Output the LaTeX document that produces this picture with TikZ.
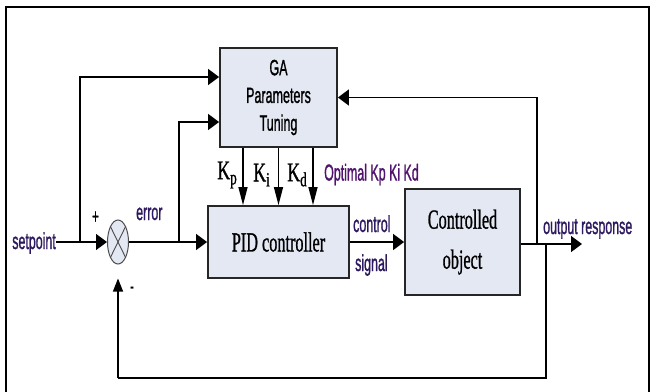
\documentclass[tikz,border=0pt]{standalone}
\usepackage{fontspec}
\usepackage{graphicx}
\usetikzlibrary{shapes.geometric,arrows.meta}
\newfontfamily\lsans[FakeBold=1.5]{Liberation Sans}
\newfontfamily\lserif[FakeBold=1.2]{Liberation Serif}
\newcommand{\sn}[1]{\scalebox{0.54}[1]{#1}}
\newcommand{\gs}[1]{\scalebox{0.57}[1]{#1}}
\newcommand{\sr}[1]{\scalebox{0.59}[1]{#1}}
\newcommand{\kr}[1]{\scalebox{0.66}[1]{#1}}
\definecolor{boxfill}{RGB}{227,232,243}
\definecolor{lbl}{RGB}{45,25,95}
\definecolor{optc}{RGB}{80,20,110}
\tikzset{
  blk/.style={draw=black!85, line width=1.8pt, fill=boxfill, inner sep=0pt, align=center},
  wire/.style={line width=1.3pt, black},
  harrow/.style={wire, -{Triangle[length=11pt,width=16pt]}},
  varrow/.style={wire, -{Triangle[length=18pt,width=9pt]}},
  farrow/.style={wire, -{Triangle[length=13pt,width=10pt]}},
  sanslbl/.style={font=\lsans\fontsize{23}{26}\selectfont, text=lbl, inner sep=0pt},
  klbl/.style={font=\lserif\fontsize{27}{28}\selectfont, inner sep=0pt, anchor=east}
}
\newcommand{\ksub}[1]{\raisebox{-5pt}{\fontsize{20}{20}\selectfont #1}}
\begin{document}
\begin{tikzpicture}[x=1pt,y=-1pt]
\useasboundingbox (0,0) rectangle (656,391);
\clip (0,0) rectangle (656,391);
% frame
\draw[line width=2.2pt] (6,400) -- (6,7) -- (649,7) -- (649,400);

% blocks
\node[blk, minimum width=117pt, minimum height=99pt,
      font=\lsans\fontsize{22}{27.7}\selectfont] (GA) at (278.5,97.5) {\gs{GA}\\\gs{Parameters}\\\gs{Tuning}};
\node[blk, minimum width=141pt, minimum height=72pt, font=\lserif\fontsize{27.5}{28}\selectfont] (PID) at (278.5,242) {\sr{PID controller}};
\node[blk, minimum width=115pt, minimum height=106pt, font=\lserif\fontsize{27.5}{40}\selectfont] (CO) at (462.5,242) {\sr{Controlled}\\\sr{object}};
\node[draw=black!70, line width=1pt, fill=boxfill, ellipse, minimum width=21pt, minimum height=44pt, inner sep=0pt] (sum) at (118,242) {};
\draw[black!70, line width=0.9pt] (sum.north east) -- (sum.south west);
\draw[black!70, line width=0.9pt] (sum.north west) -- (sum.south east);

% labels
\node[sanslbl, anchor=base east] (sp) at (56,249) {\sn{setpoint}};
\node[sanslbl, anchor=base west] (err) at (136,220) {\sn{error}};
\node[inner sep=0pt, font=\lsans\fontsize{21}{24}\selectfont] (plus) at (95.5,217.5) {\sn{+}};
\node[inner sep=0pt, font=\lsans\fontsize{21}{24}\selectfont] (minus) at (132,290) {\sn{-}};
\node[sanslbl, anchor=base west] (ctl) at (353,232) {\sn{control}};
\node[sanslbl, anchor=base west] (sig) at (355,271) {\sn{signal}};
\node[sanslbl, anchor=base west] (outr) at (543,234) {\sn{output response}};
\node[sanslbl, text=optc, anchor=base west] (opt) at (324,180.5) {\sn{Optimal Kp Ki Kd}};
\node[klbl] (kp) at (237,175) {\kr{K\ksub{p}}};
\node[klbl] (ki) at (270,175) {\kr{K\ksub{i}}};
\node[klbl] (kd) at (307,175) {\kr{K\ksub{d}}};

% coordinates
\coordinate (b1) at (80,242);
\coordinate (b2) at (179,242);
\coordinate (o1) at (537,244);
\coordinate (o2) at (546,244);
\coordinate (outend) at (582,244);
\coordinate (fbc) at (546,378);
\coordinate (fbl) at (118,378);
\coordinate (fbtip) at ([yshift=-14pt]sum.south);

% connectors
\draw[harrow] (sum.west -| sp.east) -- (sum.west);
\draw[harrow] (b1) |- ([yshift=20.5pt]GA.west);
\draw[harrow] (b2) |- ([yshift=-24.5pt]GA.west);
\draw[harrow] (sum.east) -- (PID.west);
\draw[harrow] (PID.east) -- (CO.west);
\draw[harrow] ([yshift=-2pt]CO.east) -- (outend);
\draw[harrow] (o1) |- (GA.east);
\draw[wire, line width=1.1pt] (o2) -- (fbc) -- (fbl);
\draw[farrow, line width=1.1pt] (fbl) -- (fbtip);
\draw[varrow] ([xshift=-35.5pt]GA.south) -- ([xshift=-35.5pt]PID.north);
\draw[varrow] (GA.south) -- (PID.north);
\draw[varrow] ([xshift=34.5pt]GA.south) -- ([xshift=34.5pt]PID.north);
\end{tikzpicture}
\end{document}
